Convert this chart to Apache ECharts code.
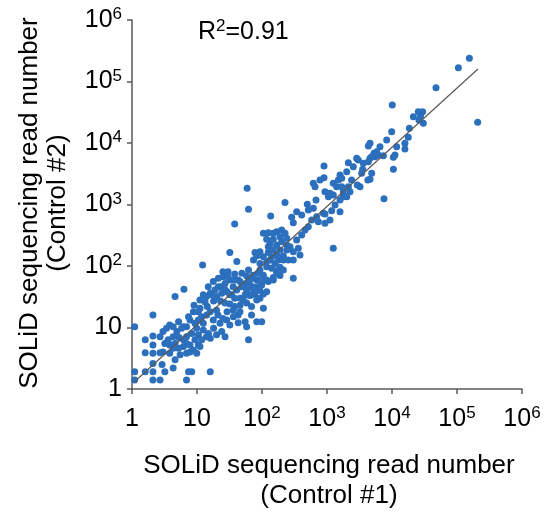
<!DOCTYPE html>
<html><head><meta charset="utf-8">
<script src="https://cdn.jsdelivr.net/npm/echarts@6/dist/echarts.min.js"></script>
<style>html,body{margin:0;padding:0;background:#fff}#c{width:545px;height:514px}</style>
</head><body><div id="c"></div>
<script>
// Tick labels (index = decade exponent)
const xTickLabels = ['{b|1}', '{b|10}', '{b|10}{s|2}', '{b|10}{s|3}', '{b|10}{s|4}', '{b|10}{s|5}', '{b|10}{s|6}'];
const yTickLabels = ['{b|1}', '{b|10}', '{b|10}{s|2}', '{b|10}{s|3}', '{b|10}{s|4}', '{b|10}{s|5}', '{b|10}{s|6}'];

// Read numbers: [Control #1, Control #2]
const readPairs = [
 [59,1830],[62,834],[38,482],[226,1080],[136,650],[286,618],[303,507],[1250,194],[736,526],[931,494],
 [459,385],[105,340],[125,348],[168,362],[226,340],[118,271],[149,271],[133,228],[168,219],[201,249],
 [240,219],[189,182],[149,182],[125,206],[125,165],[168,151],[213,145],[254,125],[303,125],[362,194],
 [384,151],[303,171],[32,165],[78,165],[83,145],[41,118],[74,125],[93,110],[12.2,104],[118,118],
 [158,110],[189,95],[213,86],[168,84],[189,70],[149,65],[303,63],[213,125],[25,81],[30,81],
 [38,74],[49,76],[62,86],[58,69],[69,63],[83,59],[88,76],[111,59],[125,56],[149,59],
 [168,78],[12.5,34],[14,32],[16,36],[19,41],[23,46],[27,52],[32,59],[38,59],[46,56],
 [55,51],[62,56],[69,47],[74,42],[83,46],[93,40],[105,35],[118,38],[78,35],[65,33],
 [55,34],[46,30],[38,30],[34,34],[29,38],[24,36],[20,32],[18,27],[23,27],[27,25],
 [32,24],[38,22],[46,23],[58,25],[69,22],[93,30],[105,20.5],[4.6,32],[6.3,42],[9.0,23],
 [11.1,20.5],[14.4,22],[16,18],[20,19],[21,16],[25,14],[29,18],[32,11],[43,12],[58,10.3],
 [55,12.4],[69,16],[83,12.4],[99,12.4],[43,16],[36,19],[62,6.3],[24,8.6],[27,7.1],[20,7.6],
 [15,8.0],[18,9.7],[12.5,11.7],[11.8,15],[10.5,13.2],[8.8,18],[9.9,9.7],[8.3,8.0],[6.9,7.1],[7.8,13.2],
 [6.9,10.3],[5.8,9.7],[4.9,8.6],[4.3,10.3],[3.8,11],[3.4,9.7],[3.0,8.6],[2.1,16],[1.6,6.3],[2.1,7.3],
 [2.1,5.2],[2.7,7.1],[3.2,5.5],[3.8,5.2],[4.6,5.5],[5.3,6.9],[6.2,6.3],[6.9,5.5],[7.8,5.2],[9.3,6.3],
 [10.5,5.2],[11.8,6.3],[14,7.1],[16,6.7],[11.1,4.9],[9.9,3.8],[6.9,3.8],[7.8,4.0],[4.6,3.0],[5.5,3.6],
 [3.8,3.8],[3.0,4.0],[2.7,3.9],[2.1,3.8],[1.6,3.9],[2.1,2.6],[2.9,2.5],[4.3,2.2],[3.2,1.9],[2.1,1.9],
 [1.6,1.9],[16,1.9],[8.3,1.9],[6.9,1.4],[7.4,1.9],[2.7,1.4],[2.1,1.4],[1.1,10.3],[1.1,1.9],[1.1,1.4],
 [14.9,46],[17.8,56],[21.3,63],[25.4,67],[21.3,46],[16.8,34],[13.3,26],[11.1,28],[10.5,18],[14.1,16],
 [17.8,13.2],[22.6,11.7],[28.6,13.2],[36.2,15],[45.9,18],[51.6,28],[40.8,40.7],[48.7,46],[58,40.7],[65,59],
 [73.5,71],[93,86],[105,71],[118,97.5],[141,92],[133,125],[105,142],[93,171],[141,142],[178,125],
 [240,182],[270,206],[240,282],[189,300],[149,340],[201,385],[341,265],[408,319],[516,436],[581,560],
 [693,634],[879,718],[1112,560],[408,675],[341,765],[88,59],[99,49],[118,59],[69,34],[83,28],
 [32,34],[27,41],[36,46],[43,59],[30,67],[6.2,10.3],[5.2,12.4],[7.4,15],[9.3,11.7],[12.5,9.1],
 [10.5,7.6],[4.3,7.1],[3.6,6.3],[6.2,4.9],[8.8,4.3],[4.3,4.6],[5.2,4.6],
 [155000,238000],[105000,168000],[47500,79400],[208000,21700],[10100,41500],[25400,32300],[29600,32300],[27500,27500],[26000,23600],[9890,15300],
 [18500,17300],[17800,12400],[15800,9880],[15800,7990],[11100,6380],[10500,5850],[10500,3730],[7530,1245],[4590,9880],[4330,8940],
 [5810,7230],[5290,6790],[6160,6380],[4590,5630],[4870,5990],[5470,6000],[4330,4970],[2860,5630],[3030,5290],[2130,4790],
 [3540,3730],[4870,3210],[4590,2570],[4250,2500],[2930,2075],[7360,6220],[900,4230],[900,2730],[616,2210],[654,1950],
 [931,1617],[1112,1520],[1251,1427],[1050,1340],[1585,3020],[1683,2663],[1494,2503],[1408,1950],[1683,1950],[1782,1340],
 [1585,1183],[1782,1617],[2259,1617],[2130,1950],[498,1006],[616,866],[516,814],[678,1183],[1180,794],[1585,765],
 [931,701],[2540,4120],[3620,4670],[3410,3210],[2390,2500],[2010,3420],[1250,2210],[780,2500],[1330,982],[2010,1340],
 [3220,1950],[6530,8710],[8280,11200],[11800,8710],[21300,26800],[30300,20900]
];

// Regression line end points
const fitX = [1.08, 210000];
const fitY = [1.3, 160000];

const FONT = '"Liberation Sans", Arial, sans-serif';
const rich = {
  b: {fontSize: 25, lineHeight: 28, color: '#000', fontFamily: FONT},
  s: {fontSize: 17, lineHeight: 22, verticalAlign: 'top', color: '#000', fontFamily: FONT}
};
const decade = v => Math.round(Math.log10(v));

const chart = echarts.init(document.getElementById('c'), null, {renderer: 'canvas'});
chart.setOption({
  animation: false,
  backgroundColor: '#fff',
  grid: {left: 132, right: 23, top: 20, bottom: 125, containLabel: false},
  xAxis: {
    type: 'log', logBase: 10, min: 1, max: 1000000, interval: 1,
    axisLine: {lineStyle: {color: '#595959', width: 1.5}},
    axisTick: {show: true, length: 5, lineStyle: {color: '#595959', width: 1.5}},
    splitLine: {show: false},
    minorTick: {show: false},
    axisLabel: {margin: 16, formatter: v => xTickLabels[decade(v)], rich: rich, showMinLabel: true, showMaxLabel: true}
  },
  yAxis: {
    type: 'log', logBase: 10, min: 1, max: 1000000, interval: 1,
    axisLine: {lineStyle: {color: '#595959', width: 1.5}},
    axisTick: {show: true, length: 5, lineStyle: {color: '#595959', width: 1.5}},
    splitLine: {show: false},
    axisLabel: {margin: 10, align: 'right', formatter: v => yTickLabels[decade(v)], rich: rich, showMinLabel: true, showMaxLabel: true}
  },
  series: [
    {
      type: 'scatter', symbol: 'circle', symbolSize: 7,
      itemStyle: {color: '#2b6fbd', opacity: 1},
      data: readPairs, z: 2
    },
    {
      type: 'line', symbol: 'none', silent: true,
      lineStyle: {color: '#595959', width: 1.2},
      data: fitX.map((x, i) => [x, fitY[i]]), z: 3
    }
  ],
  graphic: [
    {type: 'text', left: 198, top: 18, style: {text: '{b|R}{s|2}{b|=0.91}', rich: rich}},
    {type: 'text', x: 329, y: 466, style: {text: 'SOLiD sequencing read number', font: '26px ' + FONT, fill: '#000', align: 'center', verticalAlign: 'middle'}},
    {type: 'text', x: 329, y: 496, style: {text: '(Control #1)', font: '26px ' + FONT, fill: '#000', align: 'center', verticalAlign: 'middle'}},
    {type: 'text', x: 30, y: 203, rotation: Math.PI / 2, style: {text: 'SOLiD sequencing read number', font: '26px ' + FONT, fill: '#000', align: 'center', verticalAlign: 'middle'}},
    {type: 'text', x: 58, y: 203, rotation: Math.PI / 2, style: {text: '(Control #2)', font: '26px ' + FONT, fill: '#000', align: 'center', verticalAlign: 'middle'}}
  ]
});
</script>
</body></html>
